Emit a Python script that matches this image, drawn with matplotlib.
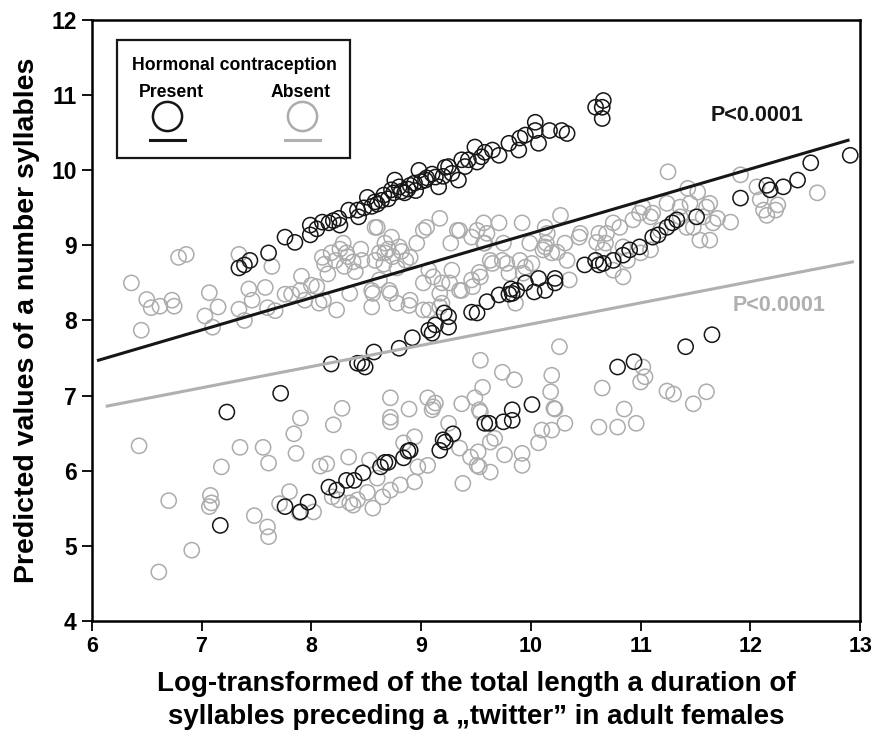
import matplotlib
matplotlib.use("Agg")
import matplotlib.pyplot as plt
from matplotlib.patches import Rectangle

plt.rcParams['font.family'] = ['Liberation Sans', 'DejaVu Sans']
plt.rcParams['font.weight'] = 'bold'

# Absent hormonal contraception (grey circles)
absent_x = [6.36, 6.45, 6.50, 6.54, 6.62, 6.73, 6.75, 6.79, 6.86, 7.03, 7.07, 7.10, 7.15, 7.34, 7.34, 7.39,
            7.43, 7.46, 7.58, 7.64, 7.60, 7.67, 7.76, 7.82, 7.90, 7.91, 7.94, 8.00, 8.10, 8.07, 8.05, 8.11,
            8.23, 8.35, 8.56, 8.72, 8.78, 8.90, 9.02, 9.11, 9.17, 9.26, 9.35, 9.47, 9.54, 9.02, 9.17,
            8.12, 8.18, 8.22, 8.26, 8.30, 8.33, 8.38, 8.29, 8.32, 8.15, 8.40, 8.45,
            8.58, 8.62, 8.66, 8.70, 8.74, 8.78, 8.82, 8.86, 8.58, 8.73, 8.67, 8.60,
            9.17, 9.02, 9.33, 9.51, 9.05, 9.35, 9.46, 9.57, 9.71, 9.92, 10.13, 10.27, 10.44, 10.62, 10.68,
            8.96, 9.27, 9.57, 9.75, 9.99, 10.14,
            8.46, 8.67, 8.80, 8.90, 8.62, 8.55, 8.71, 8.55, 8.89, 9.07, 9.19, 9.28, 9.37, 9.46, 9.53, 9.65,
            9.74, 9.80, 9.95, 10.01, 10.13, 10.19, 10.31, 10.35, 9.07, 9.19, 9.86, 9.58,
            10.15, 10.45, 10.11, 10.24, 10.33, 9.60, 9.63, 9.78, 9.90, 9.93, 10.75, 10.84, 10.84, 10.99,
            11.09, 11.18, 11.36, 11.45, 11.48, 11.60, 11.66, 11.82, 11.54, 11.63, 10.60, 10.66, 10.75, 10.88,
            11.25, 11.43, 11.52, 11.63, 11.57, 11.70, 11.42, 11.36, 11.24, 11.11, 11.02, 10.93, 10.81, 10.69,
            11.09, 11.00, 11.91, 12.06, 12.09, 12.12, 12.23, 12.25, 12.15, 12.61,
            6.43, 6.70, 6.91, 6.61, 7.08, 7.09, 7.07, 7.18, 7.35, 7.56, 7.61, 7.48, 7.60, 7.61, 7.80, 7.71,
            7.84, 7.90, 7.86, 7.89, 8.02, 8.08, 8.14, 8.20, 8.28, 8.19, 8.25, 8.34, 8.35,
            8.72, 8.89, 8.72, 8.94, 9.06, 9.11, 9.25, 9.37, 9.49, 9.54, 9.54, 9.56, 8.84, 8.97, 9.06, 8.94,
            8.81, 9.38, 9.35, 9.45, 9.52, 9.51, 8.56, 8.65, 8.51, 8.60, 8.53, 8.38, 8.42, 8.72,
            9.53, 9.63, 9.76, 9.92, 9.92, 9.63, 9.67, 10.07, 10.10, 10.19, 10.31, 10.21, 10.62,
            10.26, 9.74, 9.85, 10.19, 10.18, 10.65, 9.13, 9.10, 9.53, 8.72,
            10.22, 10.79, 10.85, 10.96, 11.02, 11.00, 11.04, 11.24, 11.30, 11.48, 11.60]
absent_y = [8.50, 7.87, 8.28, 8.17, 8.19, 8.27, 8.19, 8.84, 8.88, 8.06, 8.37, 7.91, 8.18, 8.88, 8.15, 8.00,
            8.42, 8.27, 8.44, 8.72, 8.17, 8.13, 8.35, 8.35, 8.40, 8.59, 8.27, 8.47, 8.84, 8.23, 8.45, 8.27,
            8.14, 8.36, 8.36, 8.36, 8.23, 8.27, 8.50, 8.58, 8.36, 8.50, 8.40, 8.45, 8.58, 8.14, 8.18,
            8.75, 8.90, 8.80, 8.95, 8.72, 8.85, 8.78, 9.03, 8.90, 8.62, 8.65, 8.95,
            8.80, 8.90, 8.75, 8.95, 8.85, 8.70, 8.92, 8.80, 9.24, 9.11, 9.03, 9.24,
            9.36, 9.20, 9.20, 9.20, 9.24, 9.20, 9.11, 9.30, 9.30, 9.30, 9.24, 9.40, 9.11, 9.16, 9.03,
            9.03, 9.03, 9.03, 9.03, 9.03, 9.03,
            8.80, 8.90, 8.98, 8.84, 8.54, 8.40, 8.40, 8.18, 8.20, 8.67, 8.50, 8.67, 8.40, 8.54, 8.64, 8.76,
            8.80, 8.63, 8.71, 8.76, 8.98, 8.90, 9.03, 8.54, 8.14, 8.23, 8.23, 9.03,
            9.16, 9.16, 8.94, 8.91, 8.80, 9.16, 8.80, 8.76, 8.80, 8.63, 9.30, 8.98, 8.58, 9.43,
            9.38, 9.20, 9.38, 9.56, 9.24, 9.51, 9.30, 9.31, 9.07, 9.07, 9.04, 8.94, 8.67, 8.80,
            9.98, 9.76, 9.71, 9.56, 9.38, 9.36, 9.24, 9.51, 9.56, 9.43, 9.51, 9.34, 9.24, 9.16,
            8.94, 8.90, 9.94, 9.78, 9.61, 9.47, 9.47, 9.54, 9.40, 9.70,
            6.33, 5.60, 4.94, 4.65, 5.67, 5.57, 5.52, 6.05, 6.31, 6.31, 6.10, 5.40, 5.25, 5.12, 5.72, 5.56,
            6.49, 6.70, 6.23, 5.44, 5.45, 6.06, 6.09, 6.61, 6.83, 5.65, 5.61, 6.18, 5.57,
            6.97, 6.82, 6.65, 6.45, 6.97, 6.85, 6.63, 6.89, 6.97, 6.78, 7.47, 7.11, 6.37, 6.05, 6.07, 5.85,
            5.81, 5.83, 6.30, 6.18, 6.25, 6.07, 5.50, 5.65, 5.71, 5.90, 6.14, 5.54, 5.61, 5.74,
            6.05, 5.98, 6.21, 6.23, 6.07, 6.38, 6.43, 6.37, 6.54, 6.54, 6.63, 6.83, 6.58,
            7.65, 7.31, 7.21, 7.27, 7.05, 7.10, 6.90, 6.81, 6.81, 6.71,
            6.82, 6.58, 6.82, 6.63, 7.38, 7.18, 7.25, 7.06, 7.02, 6.89, 7.05]

# Present hormonal contraception (black circles)
present_x = [7.34, 7.39, 7.44, 7.61, 7.76, 7.85, 7.99, 7.99, 8.10, 8.16, 8.25, 8.26, 8.34, 8.42, 8.43, 8.51,
             8.58, 8.66, 8.73, 8.80, 8.85, 8.76, 8.98, 8.94, 9.04, 9.13, 9.16, 9.22, 9.28, 9.34, 9.37, 9.43,
             9.49, 9.51, 9.58, 9.65, 9.71, 9.80, 9.89, 9.90, 9.95, 10.04, 10.04, 10.07, 10.17, 10.28, 10.33,
             10.59, 10.66, 10.65, 10.65,
             8.60, 8.70, 8.75, 8.82, 8.88, 8.90, 8.95, 9.00, 9.05, 9.10, 9.20, 8.55, 8.64, 9.25, 9.40, 9.55,
             8.48, 8.20, 8.05,
             8.18, 8.42, 8.46, 8.49, 8.57, 8.80, 8.92, 9.07, 9.10, 9.13, 9.21, 9.25, 9.25, 9.46, 9.51, 9.60,
             9.71, 9.83, 9.87, 9.95, 10.03, 10.07, 10.13, 10.22, 10.22, 10.49, 10.59, 10.62, 10.66, 10.75,
             10.84, 10.90, 10.99, 11.11, 11.16, 11.24, 11.29, 11.33, 11.51, 11.91, 12.15, 12.18, 12.30, 12.43,
             12.55, 12.91, 9.80, 9.82,
             7.23, 7.72, 7.17, 7.76, 7.90, 7.97, 8.16, 8.23, 8.32, 8.39, 8.47, 8.63, 8.67, 8.70, 8.84, 8.88,
             8.90, 9.17, 9.20, 9.22, 9.29, 9.58, 9.62, 9.75, 9.83, 9.83, 10.01, 10.79, 10.94, 11.41, 11.65]
present_y = [8.70, 8.74, 8.80, 8.90, 9.11, 9.04, 9.27, 9.14, 9.31, 9.30, 9.36, 9.27, 9.47, 9.47, 9.38, 9.64,
             9.58, 9.67, 9.74, 9.78, 9.70, 9.87, 10.00, 9.83, 9.87, 9.91, 9.78, 10.04, 9.96, 9.87, 10.14, 10.14,
             10.31, 10.11, 10.24, 10.27, 10.20, 10.36, 10.27, 10.43, 10.47, 10.64, 10.53, 10.36, 10.53, 10.53, 10.49,
             10.84, 10.93, 10.84, 10.69,
             9.55, 9.62, 9.70, 9.72, 9.75, 9.80, 9.73, 9.85, 9.90, 9.95, 9.92, 9.52, 9.60, 10.05, 10.05, 10.18,
             9.50, 9.33, 9.22,
             7.42, 7.43, 7.43, 7.38, 7.58, 7.63, 7.77, 7.87, 7.83, 7.94, 8.10, 8.05, 7.91, 8.11, 8.10, 8.25,
             8.34, 8.36, 8.40, 8.50, 8.38, 8.56, 8.40, 8.50, 8.56, 8.74, 8.80, 8.74, 8.76, 8.80,
             8.87, 8.94, 8.98, 9.11, 9.14, 9.24, 9.30, 9.34, 9.38, 9.63, 9.80, 9.74, 9.78, 9.87,
             10.10, 10.20, 8.35, 8.42,
             6.78, 7.03, 5.27, 5.52, 5.45, 5.58, 5.78, 5.74, 5.87, 5.87, 5.97, 6.05, 6.11, 6.11, 6.17, 6.26,
             6.27, 6.27, 6.41, 6.38, 6.49, 6.63, 6.63, 6.65, 6.81, 6.67, 6.88, 7.38, 7.45, 7.65, 7.81]

# regression lines (end points)
present_fit_x = [6.06, 12.89]
present_fit_y = [7.47, 10.40]
absent_fit_x = [6.14, 12.93]
absent_fit_y = [6.86, 8.78]

black = '#161616'
grey = '#acacac'

fig = plt.figure(figsize=(8.75, 7.47), dpi=100)
ax = fig.add_axes([0.105, 0.169, 0.878, 0.804])

ax.scatter(absent_x, absent_y, s=120, facecolors='none', edgecolors=grey, linewidths=1.1, zorder=2)
ax.scatter(present_x, present_y, s=120, facecolors='none', edgecolors=black, linewidths=1.1, zorder=3)
ax.plot(present_fit_x, present_fit_y, color=black, lw=2.2, zorder=4)
ax.plot(absent_fit_x, absent_fit_y, color='#b0b0b0', lw=2.2, zorder=4)

ax.text(12.06, 10.73, 'P<0.0001', color=black, fontsize=15.5, fontweight='bold', ha='center', va='center')
ax.text(12.26, 8.20, 'P<0.0001', color='#b0b0b0', fontsize=15.5, fontweight='bold', ha='center', va='center')

ax.set_xlim(6, 13)
ax.set_ylim(4, 12)
ax.set_xticks(range(6, 14))
ax.set_yticks(range(4, 13))
for sp in ax.spines.values():
    sp.set_linewidth(1.8)
ax.tick_params(direction='out', length=7, width=1.3)
ax.tick_params(axis='x', labelsize=15.5, pad=4)
ax.tick_params(axis='y', labelsize=16.5, pad=4)
for lab in ax.get_xticklabels() + ax.get_yticklabels():
    lab.set_fontweight('bold')

ax.set_ylabel('Predicted values of a number syllables', fontsize=20.5, fontweight='bold', labelpad=8)
ax.set_xlabel('Log-transformed of the total length a duration of\nsyllables preceding a \u201etwitter\u201d in adult females',
              fontsize=20, fontweight='bold', labelpad=10, linespacing=1.35)

# legend box
ax.add_patch(Rectangle((0.033, 0.770), 0.303, 0.197, transform=ax.transAxes, fill=False,
                       edgecolor=black, lw=1.6, zorder=5))
ax.text(0.185, 0.924, 'Hormonal contraception', transform=ax.transAxes, fontsize=12.7,
        fontweight='bold', ha='center', va='center')
ax.text(0.103, 0.880, 'Present', transform=ax.transAxes, fontsize=12.7, fontweight='bold', ha='center', va='center')
ax.text(0.271, 0.880, 'Absent', transform=ax.transAxes, fontsize=12.7, fontweight='bold', ha='center', va='center')
ax.plot([0.098], [0.840], 'o', ms=21, mfc='none', mec=black, mew=1.8, transform=ax.transAxes)
ax.plot([0.273], [0.840], 'o', ms=21, mfc='none', mec=grey, mew=1.8, transform=ax.transAxes)
ax.plot([0.076, 0.121], [0.800, 0.800], color=black, lw=2.2, transform=ax.transAxes)
ax.plot([0.251, 0.297], [0.800, 0.800], color='#b0b0b0', lw=2.2, transform=ax.transAxes)

fig.savefig('out.png', dpi=100)
